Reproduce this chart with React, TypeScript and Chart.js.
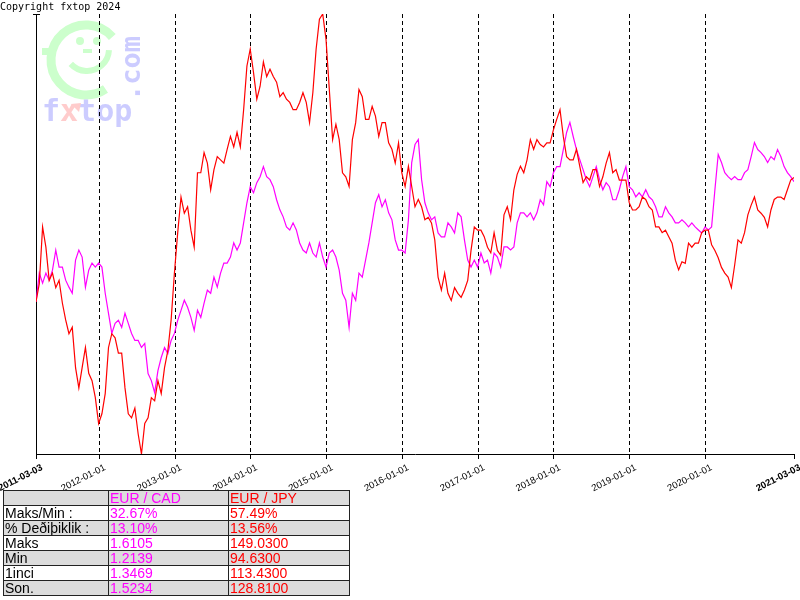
import React, { useEffect, useRef } from "react";
import { Chart, registerables } from "chart.js";

Chart.register(...registerables);

const startDate = "2011-03-03";
const endDate = "2021-03-03";
const tickLabels = [
  "2011-03-03", "2012-01-01", "2013-01-01", "2014-01-01", "2015-01-01", "2016-01-01",
  "2017-01-01", "2018-01-01", "2019-01-01", "2020-01-01", "2021-03-03",
];
const seriesNames = ["EUR / CAD", "EUR / JPY"];
const seriesColors = ["#ff00ff", "#ff0000"];

// EUR/CAD, sampled roughly every 16 days from 2011-03-03 to 2021-03-03
const cadValues = [
  1.3469, 1.3892, 1.3745, 1.3892, 1.3789, 1.3936, 1.4231, 1.3981, 1.3981, 1.3789,
  1.3686, 1.3597, 1.4084, 1.4231, 1.4128, 1.3686, 1.3936, 1.4040, 1.3981, 1.4040,
  1.3981, 1.3597, 1.3302, 1.3007, 1.3155, 1.3199, 1.3096, 1.3302, 1.3155, 1.3007,
  1.2904, 1.2904, 1.2801, 1.2860, 1.2417, 1.2314, 1.2139, 1.2461, 1.2653, 1.2801,
  1.2712, 1.2904, 1.3007, 1.3199, 1.3346, 1.3494, 1.3391, 1.3243, 1.3051, 1.3346,
  1.3243, 1.3450, 1.3641, 1.3597, 1.3833, 1.3686, 1.3892, 1.4040, 1.4040, 1.4128,
  1.4335, 1.4231, 1.4335, 1.4630, 1.4925, 1.5161, 1.5072, 1.5220, 1.5308, 1.5456,
  1.5308, 1.5264, 1.5161, 1.4969, 1.4821, 1.4718, 1.4571, 1.4526, 1.4630, 1.4526,
  1.4335, 1.4231, 1.4187, 1.4335, 1.4187, 1.4128, 1.4335, 1.4128, 1.3981, 1.4187,
  1.4231, 1.4128, 1.3936, 1.3597, 1.3494, 1.3096, 1.3597, 1.3494, 1.3892, 1.3833,
  1.4084, 1.4335, 1.4630, 1.4925, 1.5043, 1.4866, 1.4969, 1.4777, 1.4674, 1.4379,
  1.4231, 1.4231, 1.4187, 1.4674, 1.5515, 1.5780, 1.5854, 1.5264, 1.4925, 1.4777,
  1.4674, 1.4718, 1.4482, 1.4423, 1.4423, 1.4630, 1.4571, 1.4482, 1.4777, 1.4718,
  1.4379, 1.4084, 1.3981, 1.4084, 1.3981, 1.4187, 1.4040, 1.4084, 1.3892, 1.4187,
  1.4128, 1.3981, 1.4276, 1.4276, 1.4231, 1.4276, 1.4630, 1.4777, 1.4777, 1.4718,
  1.4777, 1.4674, 1.4777, 1.4969, 1.4895, 1.5234, 1.5161, 1.5367, 1.5456, 1.5456,
  1.5706, 1.5957, 1.6105, 1.5898, 1.5706, 1.5559, 1.5411, 1.5264, 1.5161, 1.5308,
  1.5456, 1.5264, 1.5116, 1.5220, 1.5161, 1.4969, 1.4969, 1.5116, 1.5308, 1.5456,
  1.5161, 1.5116, 1.5013, 1.5072, 1.5013, 1.5116, 1.5013, 1.4969, 1.4866, 1.4718,
  1.4718, 1.4866, 1.4777, 1.4718, 1.4630, 1.4630, 1.4674, 1.4630, 1.4571, 1.4630,
  1.4571, 1.4526, 1.4482, 1.4571, 1.4526, 1.4571, 1.5116, 1.5633, 1.5515, 1.5367,
  1.5308, 1.5264, 1.5308, 1.5264, 1.5264, 1.5367, 1.5411, 1.5603, 1.5810, 1.5706,
  1.5662, 1.5603, 1.5515, 1.5603, 1.5559, 1.5706, 1.5603, 1.5456, 1.5367, 1.5308,
  1.5234,
];

// EUR/JPY, same sampling
const jpyValues = [
  113.43, 115.7, 122.7, 120.2, 116.1, 117.0, 115.2, 116.1, 113.3, 111.2,
  109.5, 110.3, 105.3, 102.8, 105.3, 107.8, 104.6, 103.7, 101.6, 98.4,
  99.6, 102.1, 107.8, 109.5, 109.0, 107.1, 107.1, 102.8, 99.6, 99.1,
  100.3, 97.1, 94.63, 98.4, 99.1, 101.6, 101.2, 103.7, 102.1, 105.3,
  107.4, 111.2, 117.0, 122.0, 126.4, 124.4, 125.2, 122.3, 120.2, 129.4,
  129.4, 131.9, 130.6, 127.3, 129.8, 131.4, 131.0, 130.6, 132.3, 133.9,
  132.6, 134.4, 132.6, 137.2, 142.6, 144.7, 141.8, 138.5, 140.1, 143.1,
  141.3, 142.2, 141.3, 140.6, 138.8, 139.3, 138.5, 138.1, 137.2, 137.2,
  138.1, 139.3, 138.1, 135.6, 139.3, 144.7, 148.4, 149.03, 145.9, 139.7,
  133.5, 135.4, 133.5, 129.4, 128.9, 127.7, 133.5, 135.6, 139.7, 138.8,
  136.0, 136.0, 137.6, 136.4, 133.9, 135.6, 135.6, 133.1, 132.3, 130.6,
  133.1, 129.4, 127.7, 130.2, 127.7, 125.2, 126.1, 125.2, 123.6, 123.9,
  123.2, 121.1, 116.5, 114.9, 117.0, 114.5, 113.6, 115.2, 114.5, 114.0,
  114.9, 116.1, 119.8, 122.7, 122.3, 122.3, 121.5, 120.2, 119.5, 122.0,
  119.8, 119.2, 124.2, 125.2, 123.6, 127.3, 129.2, 130.2, 129.4, 131.0,
  133.5, 132.3, 133.5, 132.9, 132.6, 133.1, 133.1, 134.7, 136.0, 137.2,
  133.9, 131.4, 131.0, 131.0, 132.3, 130.2, 128.2, 128.9, 128.5, 129.8,
  129.8, 127.7, 128.9, 130.6, 131.9, 129.4, 129.8, 128.5, 128.5, 128.5,
  125.7, 124.8, 124.8, 125.2, 126.4, 126.1, 125.2, 124.8, 122.7, 122.7,
  122.0, 122.3, 121.5, 120.7, 118.6, 117.4, 118.4, 118.2, 120.7, 120.2,
  120.7, 120.7, 122.0, 122.3, 122.3, 120.5, 119.8, 118.9, 117.7, 117.0,
  116.5, 115.2, 118.0, 121.1, 120.7, 122.0, 124.2, 125.4, 126.4, 124.8,
  124.4, 123.9, 122.7, 124.8, 126.1, 126.4, 126.4, 126.1, 127.3, 128.5,
  128.81,
];

const statLabels = ["Maks/Min :", "% Deðiþiklik :", "Maks", "Min", "1inci", "Son."];
const cadStats = ["32.67%", "13.10%", "1.6105", "1.2139", "1.3469", "1.5234"];
const jpyStats = ["57.49%", "13.56%", "149.0300", "94.6300", "113.4300", "128.8100"];

const dayOf = (s: string) =>
  (Date.parse(s + "T00:00:00Z") - Date.parse(startDate + "T00:00:00Z")) / 86400000;

function drawLogo(ctx: CanvasRenderingContext2D) {
  ctx.save();
  // copyright
  ctx.fillStyle = "#000";
  ctx.font = '10px "DejaVu Sans Mono", monospace';
  ctx.textBaseline = "alphabetic";
  ctx.textAlign = "left";
  ctx.fillText("Copyright fxtop 2024", 0, 10);

  // green smiley
  ctx.strokeStyle = "#ccffcc";
  ctx.fillStyle = "#ccffcc";
  ctx.lineWidth = 9;
  ctx.beginPath();
  ctx.arc(86, 60, 35, -0.72, 0.98, true);
  ctx.stroke();
  ctx.fillRect(42, 48, 14, 7);
  ctx.beginPath();
  ctx.arc(80, 41, 4, 0, Math.PI * 2);
  ctx.arc(97, 41, 4, 0, Math.PI * 2);
  ctx.fill();
  ctx.fillRect(83, 49, 9, 4);
  ctx.lineWidth = 6;
  ctx.beginPath();
  ctx.arc(87, 49, 22, 0.05, 2.4);
  ctx.stroke();

  // fxtop
  ctx.font = 'bold 30px "DejaVu Sans Mono", monospace';
  const chars = ["f", "x", "t", "o", "p"];
  let x = 42;
  chars.forEach((c) => {
    ctx.fillStyle = c === "x" ? "#ffcccc" : "#ccccff";
    ctx.fillText(c, x, 121);
    x += ctx.measureText(c).width;
  });
  ctx.fillStyle = "#ffcccc";
  ctx.beginPath();
  ctx.moveTo(81, 103);
  ctx.lineTo(71, 104);
  ctx.lineTo(79, 112);
  ctx.closePath();
  ctx.fill();

  // .com
  ctx.save();
  ctx.translate(140, 101);
  ctx.rotate(-Math.PI / 2);
  ctx.fillStyle = "#ccccff";
  ctx.font = 'bold 27px "DejaVu Sans Mono", monospace';
  ctx.fillText(".com", 0, 0);
  ctx.restore();
  ctx.restore();
}

export default function App() {
  const canvasRef = useRef<HTMLCanvasElement | null>(null);

  useEffect(() => {
    const canvas = canvasRef.current;
    if (!canvas) return;
    const totalDays = dayOf(endDate);
    const tickDays = tickLabels.map(dayOf);
    const step = totalDays / (jpyValues.length - 1);
    const jpyFirst = jpyValues[0];
    const cadFirst = cadValues[0];
    const jpyMin = Math.min(...jpyValues);
    const jpyMax = Math.max(...jpyValues);
    const last = tickLabels.length - 1;

    const decor = {
      id: "decor",
      beforeDraw(chart: any) {
        drawLogo(chart.ctx);
      },
      afterDraw(chart: any) {
        const ctx = chart.ctx as CanvasRenderingContext2D;
        const xs = chart.scales.x;
        const { left, top, bottom } = chart.chartArea;
        ctx.save();
        ctx.strokeStyle = "#000";
        ctx.lineWidth = 1;
        ctx.beginPath();
        ctx.moveTo(Math.round(left) - 3, Math.round(top) + 0.5);
        ctx.lineTo(Math.round(left) + 4, Math.round(top) + 0.5);
        ctx.stroke();
        ctx.fillStyle = "#000";
        tickLabels.forEach((lab, i) => {
          const px = xs.getPixelForValue(tickDays[i]);
          ctx.save();
          ctx.translate(px + 6, bottom + 13);
          ctx.rotate((-27 * Math.PI) / 180);
          ctx.font = (i === 0 || i === last ? "bold " : "") + '9.5px Arial, "Liberation Sans", sans-serif';
          ctx.textAlign = "right";
          ctx.textBaseline = "middle";
          ctx.fillText(lab, 0, 0);
          ctx.restore();
        });
        ctx.restore();
      },
    };

    const chart = new Chart(canvas, {
      type: "line",
      data: {
        datasets: [
          {
            label: seriesNames[1],
            data: jpyValues.map((v, i) => ({ x: i * step, y: v })),
            borderColor: seriesColors[1],
            borderWidth: 1.2,
            pointRadius: 0,
            tension: 0,
            yAxisID: "y",
          },
          {
            label: seriesNames[0],
            data: cadValues.map((v, i) => ({ x: i * step, y: v })),
            borderColor: seriesColors[0],
            borderWidth: 1.2,
            pointRadius: 0,
            tension: 0,
            yAxisID: "y2",
          },
        ],
      },
      options: {
        animation: false,
        responsive: false,
        maintainAspectRatio: false,
        layout: { padding: { left: 36, top: 14, right: 6, bottom: 141 } },
        plugins: { legend: { display: false }, tooltip: { enabled: false } },
        scales: {
          x: {
            type: "linear",
            min: 0,
            max: totalDays,
            afterBuildTicks: (s: any) => {
              s.ticks = tickDays.map((v) => ({ value: v }));
            },
            ticks: { display: false },
            grid: {
              color: (c: any) => (c.index === 0 || c.index === last ? "rgba(0,0,0,0)" : "#000"),
              lineWidth: 1,
              drawTicks: true,
              tickLength: 5,
              tickColor: "#000",
            },
            border: { display: true, color: "#000", width: 1, dash: [4, 3] },
          },
          y: {
            display: true,
            min: jpyMin,
            max: jpyMax,
            ticks: { display: false },
            grid: { display: false, drawTicks: false },
            border: { display: true, color: "#000", width: 1 },
          },
          y2: {
            display: false,
            min: (cadFirst * jpyMin) / jpyFirst,
            max: (cadFirst * jpyMax) / jpyFirst,
          },
        },
      } as any,
      plugins: [decor],
    });
    return () => chart.destroy();
  }, []);

  const cell: React.CSSProperties = {
    border: "1px solid #222",
    padding: "0 0 0 1px",
    height: 14,
    lineHeight: "14px",
    whiteSpace: "nowrap",
    overflow: "hidden",
  };

  return (
    <div style={{ position: "absolute", left: 0, top: 0, width: 800, height: 600, background: "#fff" }}>
      <canvas ref={canvasRef} width={800} height={600} style={{ position: "absolute", left: 0, top: 0 }} />
      <table
        style={{
          position: "absolute",
          left: 3,
          top: 490,
          borderCollapse: "collapse",
          tableLayout: "fixed",
          width: 346,
          fontFamily: 'Arial, "Liberation Sans", sans-serif',
          fontSize: 14,
        }}
      >
        <colgroup>
          <col style={{ width: 105 }} />
          <col style={{ width: 120 }} />
          <col style={{ width: 121 }} />
        </colgroup>
        <tbody>
          <tr style={{ background: "#dcdcdc" }}>
            <td style={cell}></td>
            <td style={{ ...cell, color: seriesColors[0] }}>{seriesNames[0]}</td>
            <td style={{ ...cell, color: seriesColors[1] }}>{seriesNames[1]}</td>
          </tr>
          {statLabels.map((lab, i) => (
            <tr key={lab} style={{ background: i % 2 === 1 ? "#dcdcdc" : "#fff" }}>
              <td style={{ ...cell, color: "#000" }}>{lab}</td>
              <td style={{ ...cell, color: seriesColors[0] }}>{cadStats[i]}</td>
              <td style={{ ...cell, color: seriesColors[1] }}>{jpyStats[i]}</td>
            </tr>
          ))}
        </tbody>
      </table>
    </div>
  );
}
